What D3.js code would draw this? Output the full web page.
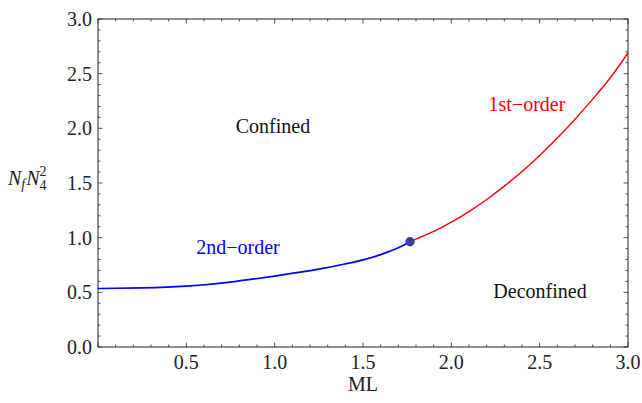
<!DOCTYPE html>
<html><head><meta charset="utf-8">
<script src="https://cdn.jsdelivr.net/npm/d3@7"></script>
<style>
body{margin:0;background:#fff}svg{display:block}
svg text{font-family:"Liberation Serif","Times New Roman",Tinos,"Nimbus Roman","DejaVu Serif",serif;}
</style>
</head><body>
<svg id="c" width="642" height="403"></svg>
<script>
const secondOrderML  = [0, 0.25, 0.5, 0.75, 1.0, 1.25, 1.4, 1.5, 1.6, 1.7, 1.766];
const secondOrderVal = [0.535, 0.54, 0.556, 0.594, 0.649, 0.712, 0.760, 0.797, 0.845, 0.908, 0.963];
const firstOrderML   = [1.766, 1.9, 2.0, 2.1, 2.2, 2.3, 2.4, 2.5, 2.6, 2.7, 2.8, 2.9, 3.0];
const firstOrderVal  = [0.963, 1.057, 1.142, 1.239, 1.349, 1.471, 1.605, 1.752, 1.911, 2.083, 2.267, 2.463, 2.69];
const criticalPoint  = [1.766, 0.963];
const xTicks = [0.5, 1.0, 1.5, 2.0, 2.5, 3.0];
const yTicks = [0.0, 0.5, 1.0, 1.5, 2.0, 2.5, 3.0];

const svg = d3.select("#c");
const L = 98, R = 628, T = 19, B = 347;
const x = d3.scaleLinear().domain([0, 3]).range([L, R]);
const y = d3.scaleLinear().domain([0, 3]).range([B, T]);
const fs = 20;

const minor = d3.range(0, 30.01, 1).map(d => d / 10);
const isMajor = v => Math.abs(v * 2 - Math.round(v * 2)) < 1e-6;
const tickG = svg.append("g").attr("stroke", "#555").attr("stroke-width", 1);
minor.forEach(v => {
  const len = isMajor(v) ? 4.5 : 2.5;
  tickG.append("line").attr("x1", x(v)).attr("x2", x(v)).attr("y1", B).attr("y2", B - len);
  tickG.append("line").attr("x1", x(v)).attr("x2", x(v)).attr("y1", T).attr("y2", T + len);
  tickG.append("line").attr("y1", y(v)).attr("y2", y(v)).attr("x1", L).attr("x2", L + len);
  tickG.append("line").attr("y1", y(v)).attr("y2", y(v)).attr("x1", R).attr("x2", R - len);
});
svg.append("rect").attr("x", L).attr("y", T).attr("width", R - L).attr("height", B - T)
  .attr("fill", "none").attr("stroke", "#222").attr("stroke-width", 1);

svg.append("g").selectAll("text").data(xTicks).join("text")
  .attr("x", d => x(d)).attr("y", 369).attr("text-anchor", "middle")
  .attr("font-size", fs).attr("fill", "#222")
  .text(d => d.toFixed(1));
svg.append("g").selectAll("text").data(yTicks).join("text")
  .attr("x", 92).attr("y", d => y(d) + 7).attr("text-anchor", "end")
  .attr("font-size", fs).attr("fill", "#222")
  .text(d => d.toFixed(1));

const line = d3.line().x(d => x(d[0])).y(d => y(d[1])).curve(d3.curveNatural);
svg.append("clipPath").attr("id", "pc").append("rect")
  .attr("x", L).attr("y", T).attr("width", R - L).attr("height", B - T);
svg.append("path").datum(secondOrderML.map((m, i) => [m, secondOrderVal[i]]))
  .attr("d", line).attr("fill", "none").attr("stroke", "#0000ff").attr("stroke-width", 1.7)
  .attr("clip-path", "url(#pc)");
svg.append("path").datum(firstOrderML.map((m, i) => [m, firstOrderVal[i]]))
  .attr("d", line).attr("fill", "none").attr("stroke", "#ff0000").attr("stroke-width", 1.4)
  .attr("clip-path", "url(#pc)");
svg.append("circle").attr("cx", x(criticalPoint[0])).attr("cy", y(criticalPoint[1]))
  .attr("r", 4.7).attr("fill", "#3a3d99");

const lab = (t, cx, by, col) => svg.append("text").attr("x", cx).attr("y", by)
  .attr("text-anchor", "middle").attr("font-size", fs)
  .attr("fill", col).text(t);
lab("Confined", 273, 133, "#111");
lab("Deconfined", 540, 298, "#111");
lab("1st\u2212order", 527, 111, "#ff0000");
lab("2nd\u2212order", 238, 254, "#0000ff");
lab("ML", 363, 391, "#222");

const yl = svg.append("text").attr("x", 8).attr("y", 185)
  .attr("font-size", fs).attr("fill", "#222");
yl.append("tspan").attr("font-style", "italic").text("N");
yl.append("tspan").attr("font-style", "italic").attr("font-size", 14).attr("dy", 4).text("f");
yl.append("tspan").attr("font-style", "italic").attr("dy", -4).attr("dx", 1).text("N");
yl.append("tspan").attr("font-size", 14).attr("dy", -9).text("2");
yl.append("tspan").attr("font-size", 14).attr("dy", 14).attr("dx", -7).text("4");
</script>
</body></html>
